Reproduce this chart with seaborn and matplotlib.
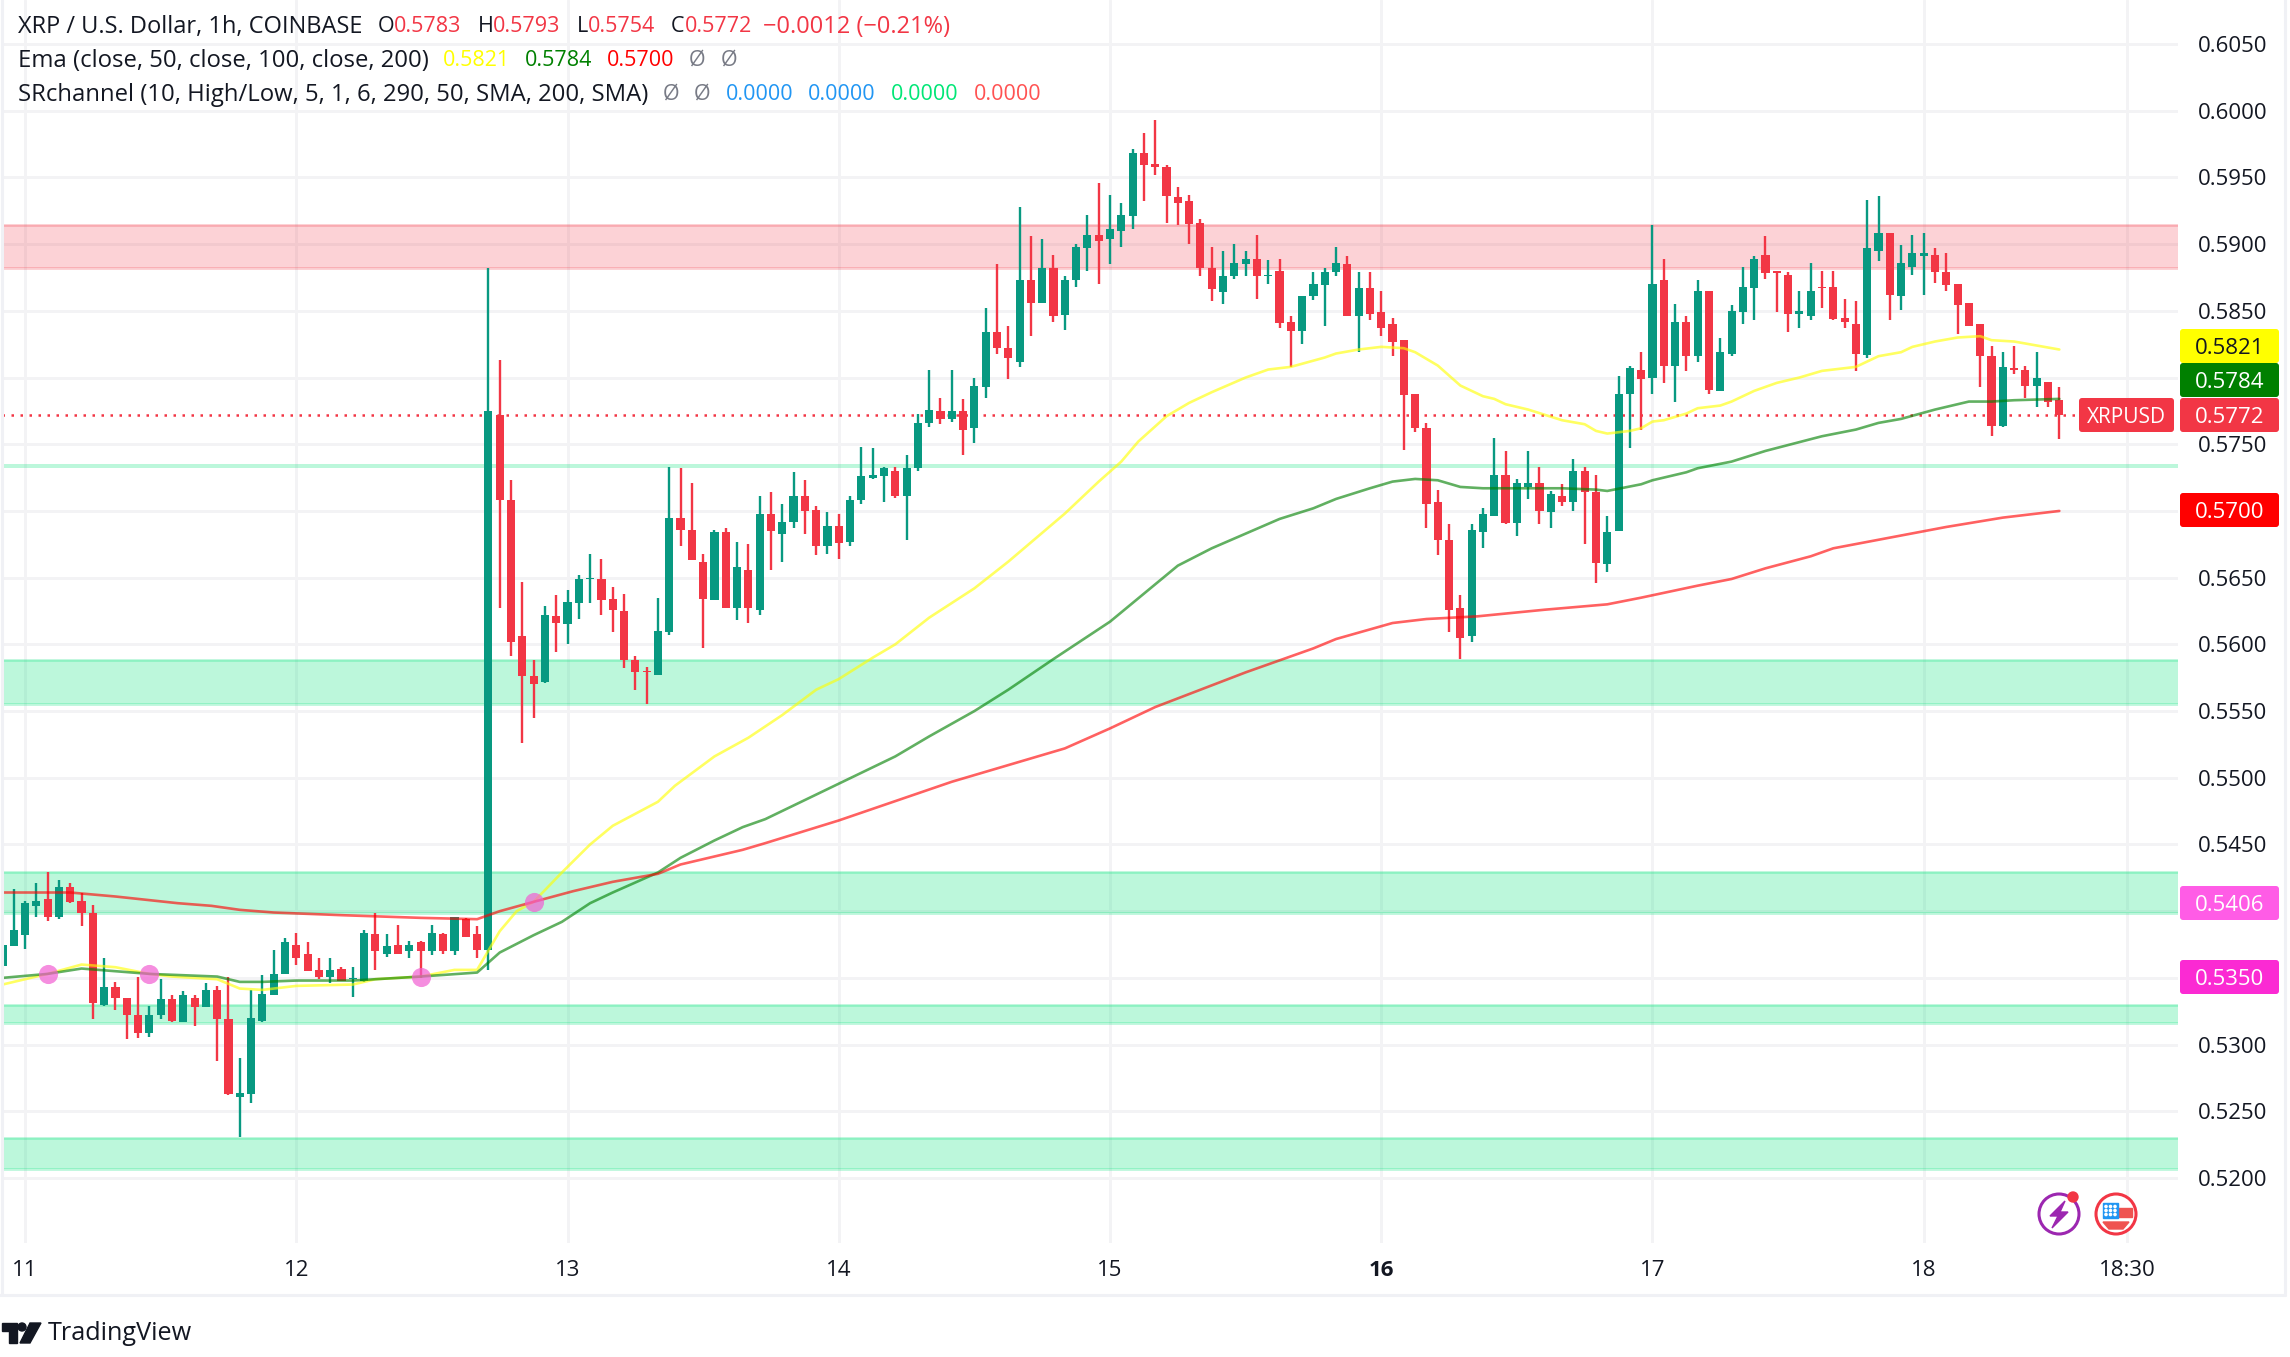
import numpy as np
import pandas as pd
import matplotlib
matplotlib.use('Agg')
import matplotlib.pyplot as plt
import seaborn as sns
from matplotlib.lines import Line2D
from matplotlib.patches import Circle, FancyBboxPatch, Polygon, Rectangle
from matplotlib.transforms import Affine2D

# candles, one per hour, first one is two hours before the 11th
first_hour = -2
opens = [.5359,.5374,.5382,.5404,.5409,.5396,.5418,.5408,.5399,.5330,
         .5343,.5335,.5322,.5309,.5322,.5334,.5317,.5335,.5328,.5341,
         .5319,.5261,.5263,.5318,.5337,.5353,.5375,.5368,.5356,.5351,
         .5357,.5349,.5348,.5383,.5368,.5375,.5370,.5377,.5370,.5383,
         .5370,.5394,.5383,.5371,.5772,.5708,.5606,.5576,.5572,.5621,
         .5615,.5631,.5649,.5649,.5634,.5625,.5588,.5580,.5577,.5609,
         .5695,.5686,.5662,.5633,.5684,.5627,.5656,.5626,.5698,.5683,
         .5692,.5711,.5701,.5674,.5689,.5677,.5708,.5725,.5726,.5730,
         .5711,.5732,.5766,.5775,.5769,.5775,.5762,.5793,.5834,.5822,
         .5812,.5873,.5856,.5882,.5847,.5873,.5897,.5907,.5904,.5910,
         .5921,.5968,.5960,.5958,.5935,.5932,.5916,.5882,.5864,.5876,
         .5885,.5889,.5876,.5880,.5842,.5835,.5861,.5869,.5879,.5885,
         .5846,.5867,.5849,.5840,.5828,.5788,.5762,.5707,.5678,.5627,
         .5606,.5684,.5696,.5727,.5691,.5718,.5721,.5699,.5711,.5707,
         .5730,.5714,.5660,.5685,.5788,.5806,.5800,.5873,.5809,.5842,
         .5816,.5865,.5790,.5818,.5849,.5867,.5892,.5880,.5877,.5848,
         .5846,.5868,.5868,.5845,.5840,.5817,.5895,.5908,.5861,.5883,
         .5891,.5892,.5879,.5870,.5856,.5840,.5816,.5764,.5807,.5806,
         .5794,.5797,.5783]
highs = [.5392,.5417,.5408,.5421,.5429,.5423,.5421,.5414,.5405,.5365,
         .5347,.5335,.5351,.5329,.5349,.5337,.5340,.5337,.5346,.5344,
         .5351,.5290,.5341,.5352,.5371,.5380,.5384,.5377,.5365,.5365,
         .5358,.5358,.5386,.5399,.5383,.5390,.5378,.5378,.5390,.5384,
         .5396,.5395,.5389,.5882,.5813,.5723,.5647,.5588,.5629,.5637,
         .5641,.5652,.5668,.5664,.5643,.5638,.5591,.5583,.5635,.5733,
         .5732,.5721,.5668,.5686,.5687,.5677,.5675,.5711,.5714,.5705,
         .5729,.5723,.5704,.5699,.5698,.5711,.5748,.5747,.5733,.5733,
         .5742,.5773,.5806,.5785,.5806,.5784,.5800,.5852,.5885,.5839,
         .5928,.5906,.5904,.5892,.5876,.5900,.5922,.5946,.5937,.5931,
         .5971,.5983,.5993,.5959,.5943,.5937,.5919,.5898,.5895,.5900,
         .5895,.5907,.5888,.5889,.5846,.5861,.5879,.5882,.5898,.5891,
         .5879,.5879,.5865,.5845,.5828,.5788,.5766,.5716,.5690,.5637,
         .5690,.5702,.5755,.5745,.5724,.5745,.5733,.5715,.5720,.5739,
         .5733,.5727,.5696,.5801,.5809,.5819,.5914,.5889,.5855,.5846,
         .5873,.5865,.5830,.5854,.5883,.5891,.5906,.5880,.5879,.5865,
         .5886,.5880,.5880,.5859,.5857,.5933,.5936,.5908,.5899,.5907,
         .5908,.5897,.5893,.5870,.5856,.5840,.5824,.5819,.5824,.5809,
         .5819,.5797,.5793]
lows = [.5359,.5374,.5372,.5396,.5393,.5394,.5406,.5389,.5319,.5329,
        .5326,.5304,.5305,.5306,.5319,.5317,.5317,.5314,.5328,.5288,
        .5262,.5231,.5256,.5317,.5337,.5353,.5360,.5355,.5349,.5346,
        .5348,.5336,.5347,.5356,.5366,.5368,.5365,.5350,.5367,.5368,
        .5367,.5381,.5365,.5356,.5627,.5591,.5526,.5545,.5571,.5594,
        .5600,.5619,.5631,.5622,.5609,.5582,.5566,.5555,.5577,.5607,
        .5674,.5663,.5597,.5633,.5627,.5618,.5616,.5622,.5656,.5662,
        .5687,.5683,.5667,.5668,.5664,.5674,.5705,.5724,.5707,.5710,
        .5678,.5730,.5763,.5765,.5767,.5742,.5751,.5785,.5818,.5799,
        .5808,.5831,.5856,.5842,.5836,.5868,.5880,.5870,.5885,.5898,
        .5911,.5932,.5952,.5916,.5914,.5900,.5876,.5857,.5855,.5874,
        .5876,.5859,.5870,.5837,.5808,.5825,.5858,.5839,.5876,.5846,
        .5819,.5843,.5831,.5816,.5746,.5759,.5687,.5667,.5609,.5589,
        .5602,.5672,.5696,.5690,.5681,.5709,.5690,.5687,.5704,.5700,
        .5675,.5646,.5654,.5685,.5747,.5761,.5788,.5796,.5782,.5805,
        .5812,.5788,.5790,.5816,.5840,.5843,.5874,.5849,.5834,.5837,
        .5843,.5852,.5843,.5837,.5805,.5815,.5887,.5843,.5851,.5877,
        .5862,.5871,.5865,.5833,.5839,.5793,.5756,.5763,.5803,.5785,
        .5778,.5778,.5754]
closes = [.5375,.5386,.5406,.5408,.5396,.5418,.5407,.5399,.5331,.5343,
          .5335,.5322,.5309,.5322,.5334,.5318,.5337,.5328,.5341,.5319,
          .5263,.5264,.5320,.5338,.5353,.5377,.5365,.5355,.5351,.5356,
          .5348,.5350,.5384,.5370,.5374,.5368,.5375,.5370,.5384,.5370,
          .5396,.5381,.5371,.5775,.5708,.5602,.5576,.5570,.5622,.5616,
          .5632,.5649,.5650,.5633,.5626,.5588,.5579,.5579,.5610,.5695,
          .5686,.5663,.5634,.5684,.5627,.5658,.5627,.5698,.5685,.5692,
          .5711,.5700,.5674,.5689,.5676,.5708,.5726,.5727,.5732,.5711,
          .5732,.5766,.5776,.5769,.5775,.5761,.5794,.5834,.5822,.5815,
          .5873,.5856,.5882,.5846,.5873,.5898,.5907,.5902,.5911,.5922,
          .5968,.5959,.5958,.5936,.5931,.5915,.5882,.5866,.5876,.5886,
          .5889,.5876,.5877,.5841,.5835,.5861,.5870,.5879,.5886,.5846,
          .5867,.5848,.5837,.5827,.5787,.5762,.5705,.5678,.5626,.5605,
          .5686,.5698,.5727,.5691,.5721,.5721,.5700,.5713,.5707,.5730,
          .5714,.5661,.5684,.5788,.5807,.5799,.5870,.5809,.5842,.5816,
          .5865,.5791,.5819,.5850,.5868,.5889,.5878,.5878,.5848,.5850,
          .5865,.5867,.5844,.5842,.5818,.5897,.5908,.5862,.5886,.5893,
          .5893,.5879,.5869,.5854,.5839,.5816,.5764,.5808,.5806,.5794,
          .5800,.5782,.5772]

# ema lines, read at these hours
ema50_hours = [-2,2,5,8,11,13,17,19,21,24,29,31,35,38,40,42,43.5,45,47.5,50,52,56,57.5,61,64,67,70,72,75,77,
               80,84,87,92,95,97,98.5,101,103,105,108,110,112,115,116,118,120,122,123,125,127,129,130,131,133,
               134.5,136,138,139,140,142,143,144,145,147,148,150,151,153,155,157,159,162,164,166,167,169,171,
               173,174,176,178,180]
ema50 = [.5345,.5353,.5360,.5358,.5353,.5351,.5349,.5342,.5341,.5344,.5345,.5349,.5351,.5356,.5356,.5385,.5400,
         .5407,.5429,.5450,.5464,.5482,.5494,.5516,.5530,.5547,.5566,.5574,.5590,.5600,.5620,.5642,.5662,.5698,
         .5722,.5737,.5752,.5771,.5781,.5789,.5800,.5806,.5808,.5815,.5818,.5821,.5823,.5822,.5819,.5809,.5794,
         .5786,.5784,.5780,.5776,.5772,.5768,.5765,.5760,.5758,.5760,.5762,.5767,.5768,.5773,.5777,.5779,.5782,
         .5790,.5796,.5800,.5805,.5808,.5816,.5819,.5823,.5827,.5830,.5831,.5828,.5827,.5824,.5821]
ema100_hours = [-2,2,5,8,11,17,19,21,24,29,35,40,42,45,47.5,50,52,56,58,61,63.5,65.5,77,80,84,87,91,96,102,105,
                108,111,114,116,119,121,123,125,127,129,132,136,139,140,143,144,147,148,151,154,159,162,164,
                166,169,172,174,176,180]
ema100 = [.5350,.5353,.5357,.5355,.5353,.5351,.5347,.5347,.5348,.5348,.5351,.5354,.5369,.5382,.5392,.5406,.5414,
          .5429,.5440,.5453,.5463,.5469,.5516,.5531,.5550,.5566,.5589,.5617,.5659,.5672,.5683,.5694,.5702,.5709,
          .5717,.5722,.5724,.5723,.5718,.5717,.5717,.5717,.5716,.5715,.5720,.5723,.5729,.5732,.5737,.5745,.5756,
          .5761,.5766,.5769,.5776,.5782,.5782,.5783,.5784]
ema200_hours = [-2,4,8,13.5,16.5,19,22,28,35,40,42,45,48.5,52,56,58,63.5,65.5,72,82,90,92,96,100,104,108,112,114,
                116,121,124,128.5,134.5,140,143,148,151,154,158,160,165,170,175,180]
ema200 = [.5414,.5414,.5411,.5406,.5404,.5401,.5399,.5397,.5395,.5394,.5400,.5407,.5415,.5422,.5428,.5435,.5446,
          .5451,.5468,.5497,.5517,.5522,.5537,.5553,.5566,.5579,.5591,.5597,.5604,.5616,.5619,.5621,.5626,.5630,
          .5635,.5644,.5649,.5657,.5666,.5672,.5680,.5688,.5695,.5700]

# pink markers on the cross of the emas
cross_hours = [2, 11, 35, 45]
cross_prices = [.5353, .5353, .5351, .5407]

# sr zones as (top, bottom)
red_zone = (.5914, .5882)
green_zones = [(.5735, .5732), (.5588, .5555), (.5429, .5399), (.5330, .5316), (.5230, .5207)]

price_ticks = [.52,.525,.53,.535,.54,.545,.55,.555,.56,.565,.57,.575,.58,.585,.59,.595,.60,.605]
hidden_ticks = [.535, .57, .58]  # these sit fully under a price tag
day_hours = [0, 24, 48, 72, 96, 120, 144, 168, 186]
day_labels = ['11', '12', '13', '14', '15', '16', '17', '18', '18:30']
last_price = .5772

GREEN = '#089981'
RED = '#f23645'
TEXT = '#131722'
GRID = '#f3f3f5'
FONT_SIZE = 16
WORD_SIZE = 17.2  # legend words run wider than the digits

sns.set_theme(style='white')
plt.rcParams['font.family'] = ['Open Sans', 'DejaVu Sans']

W, H = 2290, 1357
fig = plt.figure(figsize=(W / 100, H / 100), dpi=100)
px = Affine2D().scale(1, -1).translate(0, H)  # pixel positions, y going down
ax = fig.add_axes([2 / W, 1 - 1243 / H, 2176 / W, 1243 / H])

df = pd.DataFrame({'hour': first_hour + np.arange(len(closes)), 'open': opens, 'high': highs,
                   'low': lows, 'close': closes})
df['color'] = np.where(df['close'] >= df['open'], GREEN, RED)

# zones
ax.axhspan(red_zone[1], red_zone[0], facecolor='#f23645', alpha=.22, linewidth=0, zorder=1)
for edge in red_zone:
    ax.axhline(edge, color='#f23645', alpha=.25, lw=2, zorder=1)
for top, bottom in green_zones:
    ax.axhspan(bottom, top, facecolor='#22e58a', alpha=.3, linewidth=0, zorder=1)
    if top - bottom > .0005:
        for edge in (top, bottom):
            ax.axhline(edge, color='#22e58a', alpha=.3, lw=2, zorder=1)

ax.axhline(last_price, color=RED, lw=1.8, linestyle=(0, (1, 2.6)), zorder=2)

# candles
ax.vlines(df['hour'], df['low'], df['high'], colors=df['color'], lw=1.7, zorder=3)
ax.bar(df['hour'], (df['close'] - df['open']).abs(), bottom=df[['open', 'close']].min(axis=1),
       width=.72, color=df['color'], linewidth=0, zorder=3)

# emas
for hrs, vals, col in [(ema50_hours, ema50, '#ffff00'), (ema100_hours, ema100, '#008000'), (ema200_hours, ema200, '#ff0000')]:
    sns.lineplot(x=hrs, y=vals, color=col, lw=1.9, alpha=.62, errorbar=None, ax=ax, zorder=4)

sns.scatterplot(x=cross_hours, y=cross_prices, s=190, color='#f25fd2', alpha=.7, linewidth=0, ax=ax, zorder=5)

ax.set_xlim(-2.04, 190.5)
ax.set_ylim(.52 - 65 / 13341, .52 + 1178 / 13341)
ax.set_xticks(day_hours)
ax.set_xticklabels(day_labels, fontsize=FONT_SIZE, color=TEXT)
ax.get_xticklabels()[5].set_fontweight('bold')
ax.yaxis.tick_right()
ax.set_yticks(price_ticks)
ax.set_yticklabels(['' if p in hidden_ticks else f'{p:.4f}' for p in price_ticks], fontsize=FONT_SIZE, color=TEXT)
ax.tick_params(axis='x', length=0, pad=12)
ax.tick_params(axis='y', length=0, pad=14)
ax.set_xlabel('')
ax.set_ylabel('')
ax.grid(True, color=GRID, lw=2.1)
ax.set_axisbelow(True)
for s in ax.spines.values():
    s.set_visible(False)

# pane borders
for xs, ys in [([0, 2285], [1295, 1295]), ([2285, 2285], [0, 1295]), ([2, 2], [0, 1295])]:
    fig.add_artist(Line2D(xs, ys, color='#f0f1f5', lw=2.2, transform=px))


def tag(text, cy, bg, fg='white', x0=2180, x1=2279, size=FONT_SIZE):
    fig.add_artist(FancyBboxPatch((x0, cy - 17), x1 - x0, 34, boxstyle='round,pad=0,rounding_size=3',
                                  facecolor=bg, edgecolor='none', transform=px, zorder=2))
    fig.add_artist(plt.Text((x0 + x1) / 2, cy, text, color=fg, fontsize=size, ha='center', va='center_baseline',
                            transform=px, zorder=3))


tag('0.5821', 346, '#ffff00', '#131722')
tag('0.5784', 380, '#008000')
tag('0.5772', 415, RED)
tag('XRPUSD', 415, RED, x0=2079, x1=2174, size=15)
tag('0.5700', 510, '#ff0000')
tag('0.5406', 903, '#ff5ce6')
tag('0.5350', 977, '#fb2ad3')


def header(y, runs, x=18):
    rend = fig.canvas.get_renderer()
    for text, col, gap, size in runs:
        t = fig.text(x, y, text, color=col, fontsize=size, va='center_baseline', transform=px, zorder=6)
        x = t.get_window_extent(rend).x1 + gap


D = FONT_SIZE - .5
header(24, [('XRP / U.S. Dollar, 1h, COINBASE', TEXT, 15, 17), ('O', TEXT, 0, D), ('0.5783', RED, 16, D), ('H', TEXT, 0, D),
            ('0.5793', RED, 16, D), ('L', TEXT, 0, D), ('0.5754', RED, 16, D), ('C', TEXT, 0, D), ('0.5772', RED, 11, D),
            ('\u22120.0012 (\u22120.21%)', RED, 0, 17)])
header(58, [('Ema (close, 50, close, 100, close, 200)', TEXT, 14, WORD_SIZE), ('0.5821', '#ffff00', 15, D),
            ('0.5784', '#008000', 14, D), ('0.5700', '#ff0000', 15, D), ('\u00d8', '#787b86', 15, D), ('\u00d8', '#787b86', 0, D)])
header(92, [('SRchannel (10, High/Low, 5, 1, 6, 290, 50, SMA, 200, SMA)', TEXT, 14, WORD_SIZE), ('\u00d8', '#787b86', 15, D),
            ('\u00d8', '#787b86', 15, D), ('0.0000', '#2196f3', 15, D), ('0.0000', '#2196f3', 15, D),
            ('0.0000', '#00e676', 15, D), ('0.0000', '#ff5252', 0, D)])

# tradingview logo
fig.add_artist(Polygon([(2, 1323), (17, 1323), (17, 1343), (9, 1343), (9, 1331), (2, 1331)], color=TEXT, transform=px))
fig.add_artist(Circle((22, 1327), 4, color=TEXT, transform=px))
fig.add_artist(Polygon([(30, 1323), (41, 1323), (30, 1343), (20, 1343)], color=TEXT, transform=px))
fig.text(48, 1331, 'TradingView', color=TEXT, fontsize=18.2, va='center_baseline', transform=px)

# event icons
fig.add_artist(Circle((2059, 1214), 20, facecolor='white', edgecolor='#9c27b0', lw=2.2, transform=px, zorder=4))
fig.add_artist(Polygon([(2065, 1201), (2050, 1216), (2058, 1216), (2052, 1228), (2068, 1212), (2060, 1212)],
                       color='#9c27b0', transform=px, zorder=5))
fig.add_artist(Circle((2073, 1197), 5, color=RED, transform=px, zorder=5))
fig.add_artist(Circle((2116, 1214), 20, facecolor='white', edgecolor=RED, lw=2.2, transform=px, zorder=4))
fig.add_artist(Rectangle((2103, 1203), 15, 15, color='#2196f3', transform=px, zorder=6))
fig.add_artist(Rectangle((2118, 1208), 14, 9, color='#ef5350', transform=px, zorder=5))
fig.add_artist(Polygon([(2103, 1222), (2129, 1222), (2123, 1229), (2109, 1229)], color='#ef5350', transform=px, zorder=5))
for sx in (2106, 2110.5, 2115):
    for sy in (1206.5, 1210.5, 1214.5):
        fig.add_artist(Circle((sx, sy), 1.1, color='white', transform=px, zorder=7))

fig.savefig('out.png', dpi=100, facecolor='white')
